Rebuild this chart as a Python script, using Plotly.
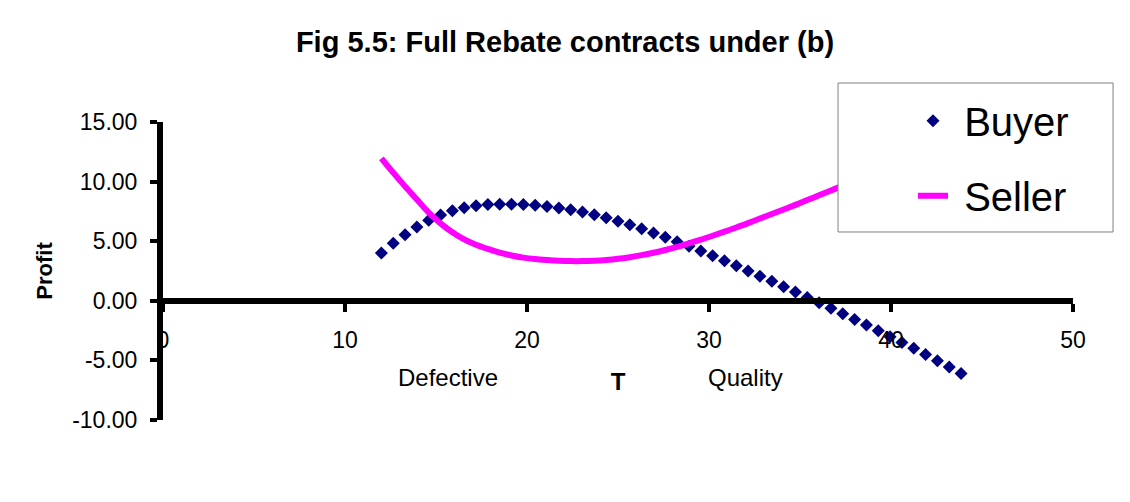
import plotly.graph_objects as go

# ---- data ----
T = [12.0, 12.65, 13.3, 13.95, 14.6, 15.25, 15.9, 16.55, 17.2, 17.85,
     18.5, 19.15, 19.8, 20.45, 21.1, 21.75, 22.4, 23.05, 23.7, 24.35,
     25.0, 25.65, 26.3, 26.95, 27.6, 28.25, 28.9, 29.55, 30.2, 30.85,
     31.5, 32.15, 32.8, 33.45, 34.1, 34.75, 35.4, 36.05, 36.7, 37.35,
     38.0, 38.65, 39.3, 39.95, 40.6, 41.25, 41.9, 42.55, 43.2, 43.85]

buyer = [4.0, 4.82, 5.55, 6.2, 6.75, 7.2, 7.55, 7.8, 7.97, 8.07,
         8.11, 8.1, 8.07, 8.02, 7.92, 7.79, 7.63, 7.44, 7.22, 6.97,
         6.68, 6.37, 6.04, 5.69, 5.33, 4.96, 4.58, 4.18, 3.77, 3.36,
         2.94, 2.5, 2.07, 1.63, 1.18, 0.73, 0.28, -0.17, -0.63, -1.09,
         -1.56, -2.04, -2.52, -3.01, -3.5, -3.99, -4.5, -5.02, -5.55, -6.1]

seller = [11.95, 10.75, 9.6, 8.5, 7.4, 6.5, 5.75, 5.15, 4.7, 4.35,
          4.05, 3.8, 3.62, 3.5, 3.42, 3.36, 3.33, 3.33, 3.36, 3.42,
          3.52, 3.66, 3.83, 4.03, 4.26, 4.52, 4.82, 5.13, 5.46, 5.8,
          6.15, 6.52, 6.9, 7.28, 7.66, 8.05, 8.45, 8.85, 9.25, 9.66, 10.07]
seller_T = T[:len(seller)]

title_text = "Fig 5.5: Full Rebate contracts under (b)"
x_title = "T"
y_title = "Profit"
x_ticks = [0, 10, 20, 30, 40, 50]
y_ticks = [-10, -5, 0, 5, 10, 15]

FONT = "Liberation Sans, Arial, sans-serif"
W, H = 1114, 486  # page adds an 8px body margin around the figure

fig = go.Figure()
fig.add_trace(go.Scatter(
    x=T, y=buyer, name=" Buyer", mode="markers",
    marker=dict(symbol="diamond", size=10, color="#000080",
                line=dict(width=0)),
    legendgroup="b",
))
fig.add_trace(go.Scatter(
    x=seller_T, y=seller, name=" Seller", mode="lines",
    line=dict(color="#FF00FF", width=6, shape="spline"),
    legendgroup="s",
))

# legend box (white, covers the plot like the original)
fig.add_shape(type="rect", xref="paper", yref="paper",
              x0=0.7418, x1=1.044, y0=0.6309, y1=1.1309,
              fillcolor="white", line=dict(color="#808080", width=1),
              layer="above")

fig.add_annotation(x=15.66, y=-6.46, xref="x", yref="y", text="Defective",
                   showarrow=False, font=dict(family=FONT, size=24, color="black"))
fig.add_annotation(x=32.0, y=-6.46, xref="x", yref="y", text="Quality",
                   showarrow=False, font=dict(family=FONT, size=24, color="black"))

fig.update_layout(
    width=W, height=H,
    margin=dict(l=155, r=49, t=114, b=74, autoexpand=False),
    paper_bgcolor="white", plot_bgcolor="white",
    font=dict(family=FONT, color="black"),
    title=dict(text="<b>" + title_text + "</b>", x=0.5, xanchor="center",
               y=1 - 34 / H, yanchor="middle",
               font=dict(family=FONT, size=29, color="black")),
    showlegend=True,
    legend=dict(x=0.8242, y=1.113, xanchor="left", yanchor="top",
                bgcolor="rgba(0,0,0,0)", borderwidth=0,
                font=dict(family=FONT, size=40, color="black"),
                tracegroupgap=20, itemsizing="trace"),
    xaxis=dict(range=[0, 50], tickvals=x_ticks, ticktext=[str(v) for v in x_ticks],
               showgrid=False, zeroline=False,
               showline=True, linecolor="black", linewidth=6,
               ticks="outside", ticklen=8, tickwidth=4, tickcolor="black",
               anchor="free", position=0.4, ticklabelstandoff=9,
               tickfont=dict(family=FONT, size=23, color="black"),
               title=dict(text="<b>" + x_title + "</b>", standoff=20,
                          font=dict(family=FONT, size=24, color="black"))),
    yaxis=dict(range=[-10, 15], tickvals=y_ticks,
               ticktext=["%.2f" % v for v in y_ticks],
               showgrid=False, zeroline=False,
               showline=True, linecolor="black", linewidth=6,
               ticks="outside", ticklen=7, tickwidth=4, tickcolor="black",
               ticklabelstandoff=8,
               tickfont=dict(family=FONT, size=23, color="black"),
               title=dict(text="<b>" + y_title + "</b>", standoff=15,
                          font=dict(family=FONT, size=22, color="black"))),
)

fig.write_html("out.html")
